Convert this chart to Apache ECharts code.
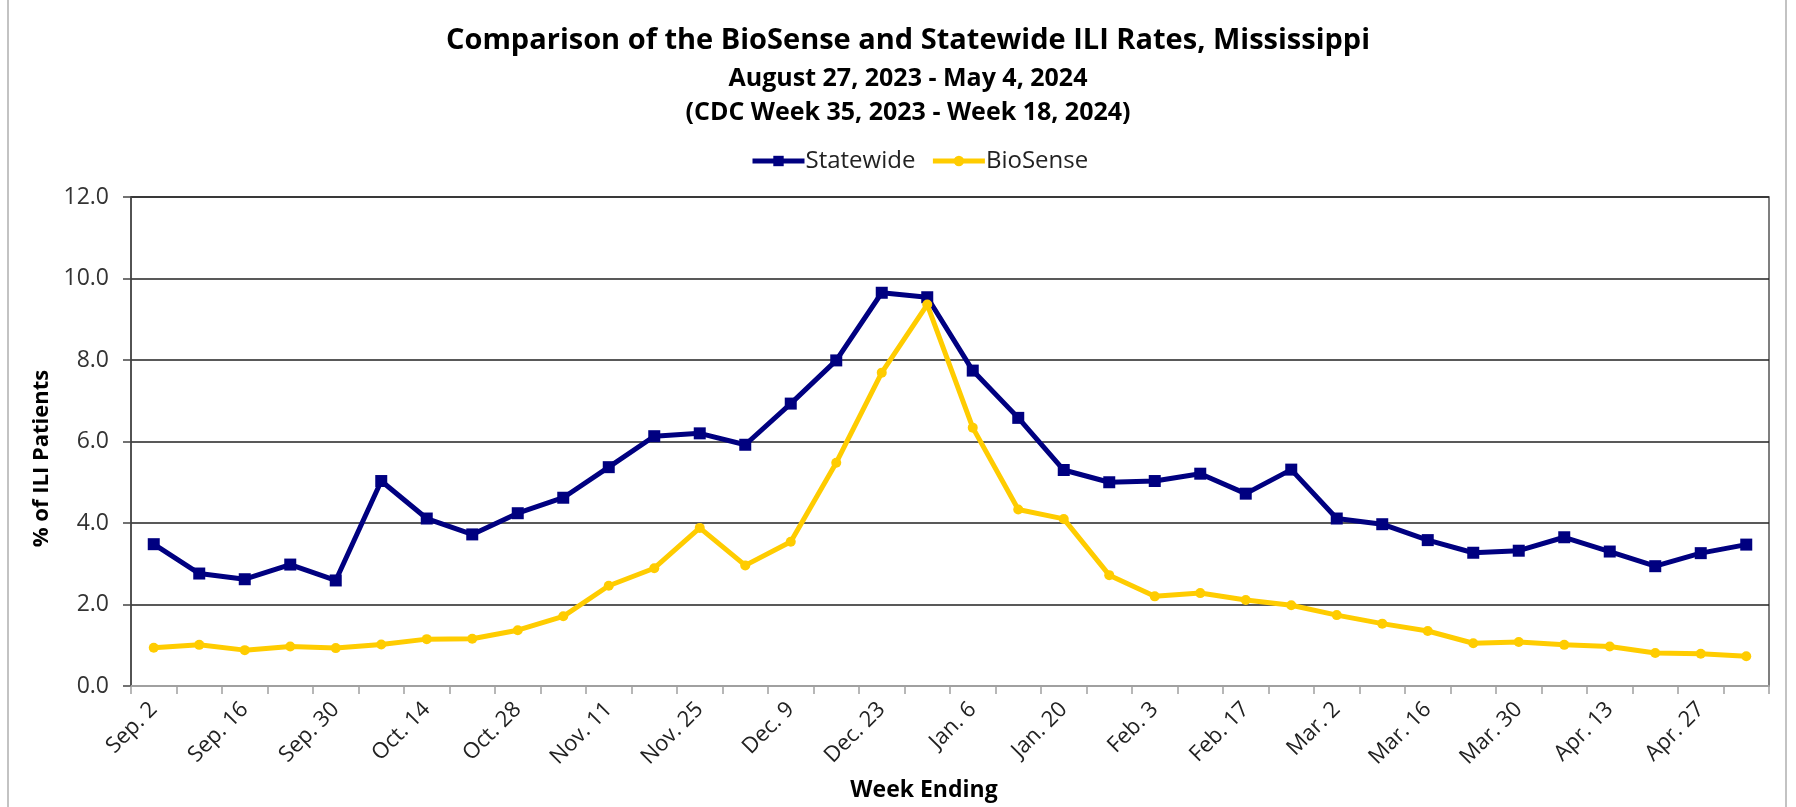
<!DOCTYPE html>
<html>
<head>
<meta charset="utf-8">
<script src="https://cdn.jsdelivr.net/npm/echarts@6/dist/echarts.min.js"></script>
<style>
html,body{margin:0;padding:0;background:#fff;}
#chart{width:1796px;height:807px;}
</style>
</head>
<body>
<div id="chart"></div>
<script>
var weeks = ["Sep. 2","Sep. 9","Sep. 16","Sep. 23","Sep. 30","Oct. 7","Oct. 14","Oct. 21","Oct. 28","Nov. 4","Nov. 11","Nov. 18","Nov. 25","Dec. 2","Dec. 9","Dec. 16","Dec. 23","Dec. 30","Jan. 6","Jan. 13","Jan. 20","Jan. 27","Feb. 3","Feb. 10","Feb. 17","Feb. 24","Mar. 2","Mar. 9","Mar. 16","Mar. 23","Mar. 30","Apr. 6","Apr. 13","Apr. 20","Apr. 27","May 4"];
var statewide = [3.48,2.76,2.62,2.98,2.59,5.03,4.11,3.72,4.24,4.62,5.37,6.13,6.20,5.92,6.93,7.99,9.65,9.54,7.74,6.58,5.30,5.00,5.03,5.21,4.72,5.31,4.11,3.97,3.58,3.27,3.32,3.65,3.30,2.94,3.26,3.47];
var biosense = [0.94,1.01,0.88,0.97,0.93,1.02,1.15,1.16,1.37,1.71,2.46,2.89,3.88,2.96,3.54,5.48,7.69,9.36,6.34,4.33,4.10,2.72,2.20,2.28,2.11,1.98,1.74,1.53,1.35,1.05,1.08,1.01,0.97,0.81,0.79,0.73];
var titleText = "Comparison of the BioSense and Statewide ILI Rates, Mississippi";
var subtitle1 = "August 27, 2023 - May 4, 2024";
var subtitle2 = "(CDC Week 35, 2023 - Week 18, 2024)";
var yAxisName = "% of ILI Patients";
var xAxisName = "Week Ending";

var FONT = "Open Sans";
var chart = echarts.init(document.getElementById('chart'));
chart.setOption({
  animation: false,
  backgroundColor: '#fff',
  textStyle: {fontFamily: FONT},
  graphic: [{
    type: 'rect', shape: {x: 8, y: -2, width: 1778, height: 812},
    style: {fill: 'none', stroke: '#b0b0b0', lineWidth: 1.5}, z: -10
  }],
  title: [
    {text: titleText, left: 903, top: 21, textAlign: 'center',
     textStyle: {fontFamily: FONT, fontSize: 29, fontWeight: 'bold', color: '#000'}},
    {text: subtitle1, left: 903, top: 61, textAlign: 'center',
     textStyle: {fontFamily: FONT, fontSize: 25, fontWeight: 'bold', color: '#000'}},
    {text: subtitle2, left: 903, top: 95, textAlign: 'center',
     textStyle: {fontFamily: FONT, fontSize: 25, fontWeight: 'bold', color: '#000'}}
  ],
  legend: {
    data: ['Statewide', 'BioSense'],
    left: 745, top: 144,
    itemWidth: 52, itemHeight: 13, itemGap: 15,
    lineStyle: {width: 5},
    textStyle: {fontFamily: FONT, fontSize: 24, color: '#222', padding: [0,0,0,-4]}
  },
  grid: {left: 131, right: 27, top: 197, bottom: 120, show: true, borderColor: '#555', borderWidth: 1.5},
  xAxis: {
    type: 'category', data: weeks, boundaryGap: true,
    name: xAxisName, nameLocation: 'middle', nameGap: 93,
    nameTextStyle: {fontFamily: FONT, fontSize: 23, fontWeight: 'bold', color: '#000', padding: [0, 52, 0, 0]},
    axisLine: {lineStyle: {color: '#a0a0a0', width: 2}},
    axisTick: {show: true, interval: 0, length: 8, lineStyle: {color: '#a0a0a0', width: 1.5}},
    axisLabel: {interval: 1, rotate: 45, margin: 20, fontFamily: FONT, fontSize: 22, color: '#222'},
    splitLine: {show: false}
  },
  yAxis: {
    type: 'value', min: 0, max: 12, interval: 2,
    name: yAxisName, nameLocation: 'middle', nameGap: 73, nameRotate: 90,
    nameTextStyle: {fontFamily: FONT, fontSize: 22, fontWeight: 'bold', color: '#000', padding: [0, 34, 0, 0]},
    axisLine: {show: true, lineStyle: {color: '#444', width: 1.5}},
    axisTick: {show: true, length: 8, lineStyle: {color: '#444', width: 1.5}},
    axisLabel: {margin: 22, fontFamily: FONT, fontSize: 23, color: '#333',
      formatter: function (v) { return v.toFixed(1); }},
    splitLine: {show: true, lineStyle: {color: '#222', width: 1.5}}
  },
  series: [
    {name: 'Statewide', type: 'line', data: statewide,
     symbol: 'rect', symbolSize: 12,
     lineStyle: {color: '#000080', width: 5},
     itemStyle: {color: '#000080'}, z: 3},
    {name: 'BioSense', type: 'line', data: biosense,
     symbol: 'circle', symbolSize: 10,
     lineStyle: {color: '#FFCC00', width: 5},
     itemStyle: {color: '#FFCC00'}, z: 4}
  ]
});
</script>
</body>
</html>
